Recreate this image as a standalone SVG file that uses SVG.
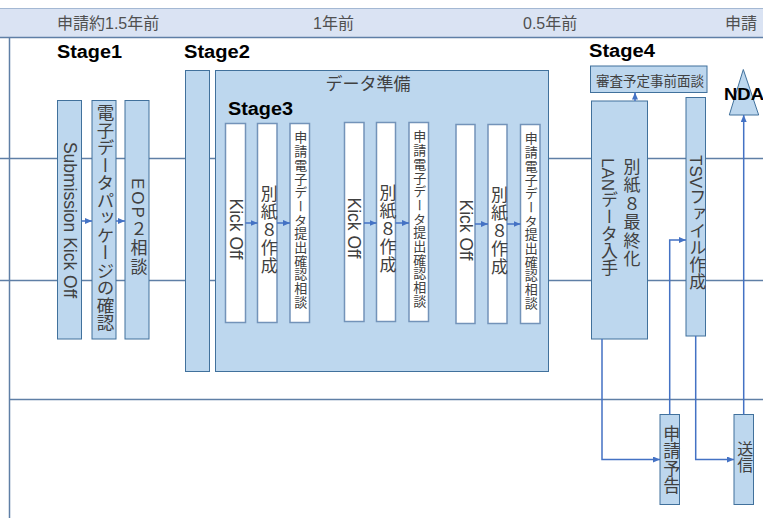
<svg xmlns="http://www.w3.org/2000/svg" width="763" height="518" viewBox="0 0 763 518">
<style>
  text { font-family: 'Liberation Sans', 'Noto Sans CJK JP', sans-serif; fill: #404040; }
  .box { fill: #bdd7ee; stroke: #41719c; stroke-width: 1; }
  .wbox { fill: #ffffff; stroke: #7393b9; stroke-width: 1.5; }
  .grid { stroke: #5f7fa6; stroke-width: 1.5; fill: none; }
  .conn { stroke: #4472c4; stroke-width: 1.5; fill: none; }
  .stage { font-weight: bold; font-size: 18px; fill: #000; }
  .hdr { font-size: 16px; fill: #505050; }
  .v { writing-mode: vertical-rl; }
</style>
<defs>
  <marker id="arr" markerUnits="userSpaceOnUse" markerWidth="7" markerHeight="6" refX="7" refY="3" orient="auto">
    <path d="M0,0 L7,3 L0,6 z" fill="#4472c4"/>
  </marker>
</defs>

<!-- background frame -->
<rect x="0" y="8" width="763" height="29" fill="#dae3f3"/>
<line x1="0" y1="8.5" x2="763" y2="8.5" stroke="#a4b8d3" stroke-width="1"/>
<line x1="0" y1="37.5" x2="763" y2="37.5" class="grid"/>
<line x1="9.5" y1="37" x2="9.5" y2="518" class="grid"/>
<line x1="0" y1="158.5" x2="763" y2="158.5" class="grid"/>
<line x1="0" y1="280.5" x2="763" y2="280.5" class="grid"/>
<line x1="9" y1="399.5" x2="763" y2="399.5" class="grid"/>

<text class="hdr" x="57" y="29">申請約1.5年前</text>
<text class="hdr" x="313" y="29">1年前</text>
<text class="hdr" x="523" y="29">0.5年前</text>
<text class="hdr" x="725" y="29">申請</text>

<text class="stage" x="57" y="58" textLength="65" lengthAdjust="spacingAndGlyphs">Stage1</text>
<text class="stage" x="184" y="58" textLength="66" lengthAdjust="spacingAndGlyphs">Stage2</text>
<text class="stage" x="589" y="57" textLength="66" lengthAdjust="spacingAndGlyphs">Stage4</text>

<!-- Stage1 -->
<g id="submission-kickoff">
  <rect class="box" x="57.5" y="100.5" width="24" height="238.5"/>
  <text x="0" y="0" font-size="17.5" text-anchor="middle" transform="translate(69.5,220) rotate(90)" dy="6">Submission Kick Off</text>
</g>
<g id="edata-package">
  <rect class="box" x="92" y="100.5" width="24" height="238.5"/>
  <text class="v" x="104" y="104" font-size="17.5">電子データパッケージの確認</text>
</g>
<g id="eop2">
  <rect class="box" x="125" y="100.5" width="24" height="238.5"/>
  <text class="v" x="137" y="178" font-size="17" letter-spacing="2">EOP２相談</text>
</g>

<!-- Stage2 -->
<g id="stage2">
  <rect class="box" x="185.5" y="70.5" width="24" height="301"/>
</g>

<!-- Data prep / Stage3 -->
<g id="data-prep">
  <rect class="box" x="215.5" y="70.5" width="333" height="301"/>
  <text x="368" y="90" font-size="17" text-anchor="middle">データ準備</text>
  <text class="stage" x="228" y="115" textLength="65" lengthAdjust="spacingAndGlyphs">Stage3</text>
</g>

<g id="kickoff1">
  <rect class="wbox" x="225.5" y="123.5" width="20" height="199"/>
  <text font-size="17.5" text-anchor="middle" transform="translate(235.5,229) rotate(90)" dy="6">Kick Off</text>
</g>
<g id="bessi8-1">
  <rect class="wbox" x="257.5" y="123.5" width="19.5" height="199"/>
  <text class="v" x="267.2" y="185" font-size="17" letter-spacing="1">別紙８作成</text>
</g>
<g id="consult1">
  <rect class="wbox" x="290" y="123.5" width="19.5" height="199"/>
  <text class="v" x="299.8" y="131" font-size="13" letter-spacing="0.7">申請電子データ提出確認相談</text>
</g>

<g id="kickoff2">
  <rect class="wbox" x="344.5" y="122.5" width="19.5" height="199"/>
  <text font-size="17.5" text-anchor="middle" transform="translate(354.2,228) rotate(90)" dy="6">Kick Off</text>
</g>
<g id="bessi8-2">
  <rect class="wbox" x="376.5" y="122.5" width="19" height="199"/>
  <text class="v" x="386" y="184" font-size="17" letter-spacing="1">別紙８作成</text>
</g>
<g id="consult2">
  <rect class="wbox" x="409" y="122.5" width="19.5" height="199"/>
  <text class="v" x="418.7" y="130" font-size="13" letter-spacing="0.7">申請電子データ提出確認相談</text>
</g>

<g id="kickoff3">
  <rect class="wbox" x="456" y="124.5" width="19" height="199"/>
  <text font-size="17.5" text-anchor="middle" transform="translate(465.5,230) rotate(90)" dy="6">Kick Off</text>
</g>
<g id="bessi8-3">
  <rect class="wbox" x="488" y="124.5" width="19" height="199"/>
  <text class="v" x="497.5" y="186" font-size="17" letter-spacing="1">別紙８作成</text>
</g>
<g id="consult3">
  <rect class="wbox" x="520.5" y="124.5" width="19.5" height="199"/>
  <text class="v" x="530.2" y="132" font-size="13" letter-spacing="0.7">申請電子データ提出確認相談</text>
</g>

<!-- Stage4 -->
<g id="pre-meeting">
  <rect class="box" x="590.5" y="66" width="116.5" height="26.5"/>
  <text x="650" y="86" font-size="13.5" text-anchor="middle">審査予定事前面談</text>
</g>
<g id="finalize">
  <rect class="box" x="591.5" y="101" width="56" height="238"/>
  <text class="v" x="630" y="158" font-size="17" letter-spacing="1.5">別紙８最終化</text>
  <text class="v" x="607.5" y="158" font-size="17">LANデータ入手</text>
</g>
<g id="tsv">
  <rect class="box" x="686" y="97.5" width="19.5" height="238.5"/>
  <text class="v" x="695.7" y="155" font-size="17">TSVファイル作成</text>
</g>
<g id="nda">
  <polygon class="box" points="743.3,69.5 729.3,115 758.7,115"/>
  <text x="724" y="100" font-size="17" font-weight="bold" style="fill:#000" textLength="40" lengthAdjust="spacingAndGlyphs">NDA</text>
</g>
<g id="notice">
  <rect class="box" x="660" y="414.5" width="19.5" height="90"/>
  <text class="v" x="669.7" y="425" font-size="17" letter-spacing="0.5">申請予告</text>
</g>
<g id="send">
  <rect class="box" x="734" y="414.5" width="19.5" height="90"/>
  <text class="v" x="743.7" y="441" font-size="16">送信</text>
</g>

<!-- connectors -->
<g id="connectors">
  <path class="conn" d="M81.5,221 H92" marker-end="url(#arr)"/>
  <path class="conn" d="M116,221 H125" marker-end="url(#arr)"/>
  <path class="conn" d="M245.5,223 H257.5" marker-end="url(#arr)"/>
  <path class="conn" d="M277,223 H290" marker-end="url(#arr)"/>
  <path class="conn" d="M364,223 H376.5" marker-end="url(#arr)"/>
  <path class="conn" d="M395.5,223 H409" marker-end="url(#arr)"/>
  <path class="conn" d="M475,224 H488" marker-end="url(#arr)"/>
  <path class="conn" d="M507,224 H520.5" marker-end="url(#arr)"/>
  <path class="conn" d="M635,101 V92.5" marker-end="url(#arr)"/>
  <path class="conn" d="M602,339 V459.5 H660" marker-end="url(#arr)"/>
  <path class="conn" d="M669.7,414.5 V240 H686" marker-end="url(#arr)"/>
  <path class="conn" d="M695.7,336 V459.5 H734" marker-end="url(#arr)"/>
  <path class="conn" d="M743.7,414.5 V115" marker-end="url(#arr)"/>
</g>
</svg>
